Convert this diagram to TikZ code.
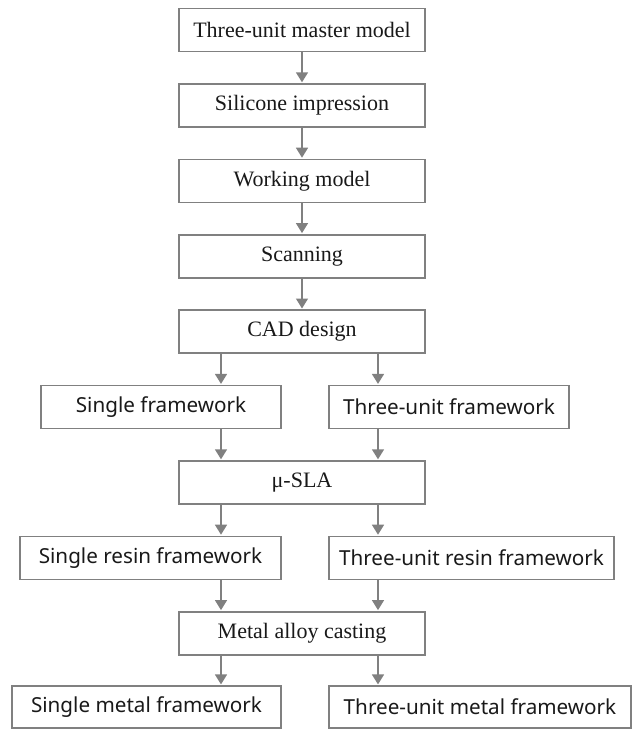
\documentclass[tikz,border=0pt]{standalone}
\usepackage{fontspec}
\setmainfont{Liberation Serif}
\newfontfamily\sansf{Noto Sans}
\usetikzlibrary{arrows.meta}
\definecolor{linegray}{RGB}{128,128,128}
\definecolor{txt}{RGB}{25,25,25}
\begin{document}
\begin{tikzpicture}[x=0.75pt,y=-0.75pt,
  box/.style={draw=linegray,line width=1.2pt,fill=white,inner sep=0pt,
    minimum height=32.25pt,text=txt,anchor=center},
  cbox/.style={box,minimum width=184.5pt,font=\fontsize{16.5}{18}\selectfont},
  sbox/.style={box,font=\sansf\fontsize{15.5}{18}\selectfont},
  arr/.style={draw=linegray,line width=1.1pt,-{Triangle[length=7.5pt,width=9pt]},
    shorten >=0.6pt, linegray}]
\useasboundingbox (0,0) rectangle (633,729);
\node[cbox] (master) at (302,30) {Three-unit master model};
\node[cbox] (silicone) at (302,105.4) {Silicone impression};
\node[cbox] (working) at (302,180.8) {Working model};
\node[cbox] (scan) at (302,256.2) {Scanning};
\node[cbox] (cad) at (302,331.6) {CAD design};
\node[sbox,minimum width=180pt] (sfw) at (161,407) {Single framework};
\node[sbox,minimum width=180pt] (tfw) at (449,407) {Three-unit framework};
\node[cbox] (sla) at (302,482.4) {μ-SLA};
\node[sbox,minimum width=195.75pt] (srf) at (150.5,557.8) {Single resin framework};
\node[sbox,minimum width=213.75pt] (trf) at (471.5,557.8) {Three-unit resin framework};
\node[cbox] (cast) at (302,633.2) {Metal alloy casting};
\node[sbox,minimum width=201.75pt,minimum height=31.5pt] (smf) at (146.5,707) {Single metal framework};
\node[sbox,minimum width=226.5pt,minimum height=31.5pt] (tmf) at (480,707) {Three-unit metal framework};
\coordinate (L) at (221,0);
\coordinate (R) at (378,0);
\draw[arr] (master) -- (silicone);
\draw[arr] (silicone) -- (working);
\draw[arr] (working) -- (scan);
\draw[arr] (scan) -- (cad);
\draw[arr] (cad.south -| L) -- (sfw.north -| L);
\draw[arr] (cad.south -| R) -- (tfw.north -| R);
\draw[arr] (sfw.south -| L) -- (sla.north -| L);
\draw[arr] (tfw.south -| R) -- (sla.north -| R);
\draw[arr] (sla.south -| L) -- (srf.north -| L);
\draw[arr] (sla.south -| R) -- (trf.north -| R);
\draw[arr] (srf.south -| L) -- (cast.north -| L);
\draw[arr] (trf.south -| R) -- (cast.north -| R);
\draw[arr] (cast.south -| L) -- (smf.north -| L);
\draw[arr] (cast.south -| R) -- (tmf.north -| R);
\end{tikzpicture}
\end{document}
